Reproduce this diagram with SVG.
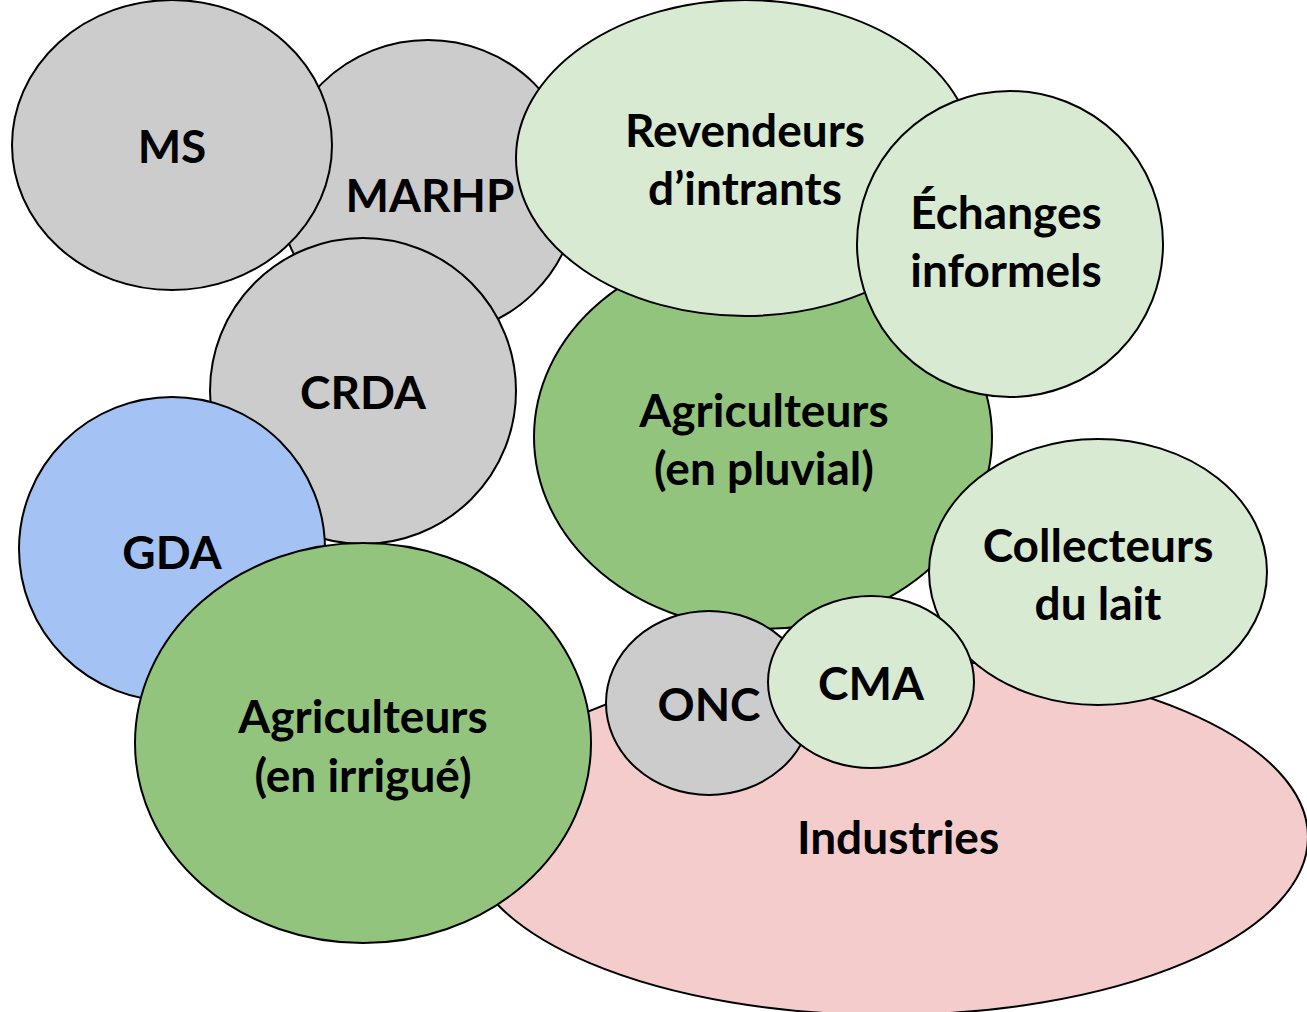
<svg xmlns="http://www.w3.org/2000/svg" width="1307" height="1012" viewBox="0 0 1307 1012">
<style>
.n{stroke:#000;stroke-width:2}
.g{fill:#cccccc}.lg{fill:#d9ead3}.dg{fill:#93c47d}.b{fill:#a4c2f4}.p{fill:#f4cccc}
text{font-family:Lato,"Open Sans","Liberation Sans",sans-serif;font-weight:bold;font-size:46px;fill:#000;text-anchor:middle}
</style>
<rect width="1307" height="1012" fill="#fff"/>
<g id="industries"><ellipse class="n p" cx="887" cy="837" rx="421" ry="178"/><text x="898" y="854">Industries</text></g>
<g id="marhp"><ellipse class="n g" cx="428" cy="188" rx="150" ry="148"/><text x="430" y="212">MARHP</text></g>
<g id="ms"><ellipse class="n g" cx="172" cy="145" rx="160" ry="145"/><text x="172" y="163">MS</text></g>
<g id="crda"><ellipse class="n g" cx="363" cy="391" rx="153" ry="153"/><text x="363" y="409">CRDA</text></g>
<g id="gda"><ellipse class="n b" cx="172" cy="549" rx="153" ry="152"/><text x="172" y="569">GDA</text></g>
<g id="agri-irrigue"><ellipse class="n dg" cx="363" cy="743" rx="228" ry="200"/><text x="363" y="733">Agriculteurs</text><text x="363" y="792">(en irrigué)</text></g>
<g id="agri-pluvial"><ellipse class="n dg" cx="763" cy="437" rx="229" ry="192"/><text x="764" y="427">Agriculteurs</text><text x="764" y="485">(en pluvial)</text></g>
<g id="revendeurs"><ellipse class="n lg" cx="745" cy="158" rx="229" ry="158"/><text x="745" y="147">Revendeurs</text><text x="745" y="205">d’intrants</text></g>
<g id="echanges"><ellipse class="n lg" cx="1010" cy="244" rx="153" ry="153"/><text x="1006" y="229">Échanges</text><text x="1006" y="287">informels</text></g>
<g id="collecteurs"><ellipse class="n lg" cx="1098" cy="572" rx="169" ry="133"/><text x="1098" y="562">Collecteurs</text><text x="1098" y="620">du lait</text></g>
<g id="onc"><ellipse class="n g" cx="709" cy="703" rx="103" ry="92"/><text x="709" y="721">ONC</text></g>
<g id="cma"><ellipse class="n lg" cx="871" cy="682" rx="103" ry="86"/><text x="871" y="700">CMA</text></g>
<g id="connectors"></g>
</svg>
